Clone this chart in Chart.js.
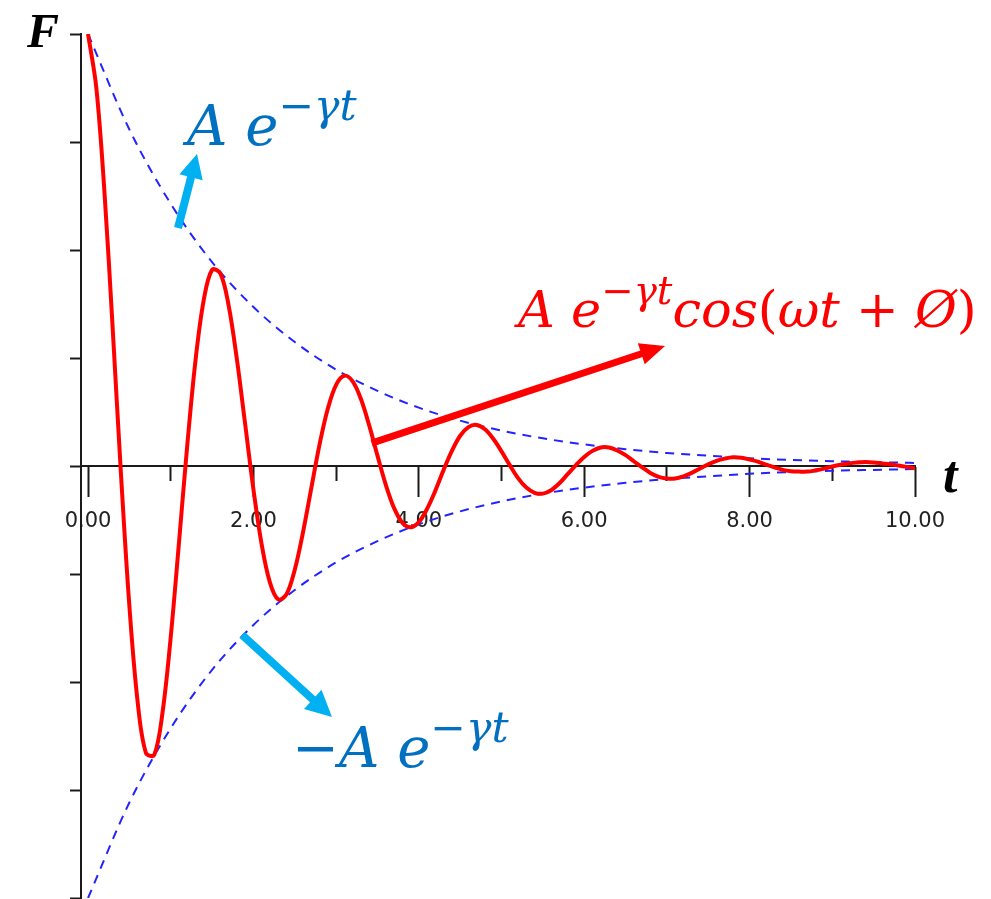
<!DOCTYPE html>
<html>
<head>
<meta charset="utf-8">
<script src="https://cdn.jsdelivr.net/npm/chart.js@4.4.1/dist/chart.umd.min.js"></script>
<style>
  body { margin: 0; background: #fff; }
  canvas { display: block; }
</style>
</head>
<body>
<canvas id="damped" width="991" height="899"></canvas>
<script>
// damped oscillation
const curveT = [
  0, 0.1, 0.2, 0.3, 0.4, 0.5, 0.6, 0.7, 0.8, 0.9,
  1, 1.1, 1.2, 1.3, 1.4, 1.5, 1.6, 1.7, 1.8, 1.9,
  2, 2.1, 2.2, 2.3, 2.4, 2.5, 2.6, 2.7, 2.8, 2.9,
  3, 3.1, 3.2, 3.3, 3.4, 3.5, 3.6, 3.7, 3.8, 3.9,
  4, 4.1, 4.2, 4.3, 4.4, 4.5, 4.6, 4.7, 4.8, 4.9,
  5, 5.1, 5.2, 5.3, 5.4, 5.5, 5.6, 5.7, 5.8, 5.9,
  6, 6.1, 6.2, 6.3, 6.4, 6.5, 6.6, 6.7, 6.8, 6.9,
  7, 7.1, 7.2, 7.3, 7.4, 7.5, 7.6, 7.7, 7.8, 7.9,
  8, 8.1, 8.2, 8.3, 8.4, 8.5, 8.6, 8.7, 8.8, 8.9,
  9, 9.1, 9.2, 9.3, 9.4, 9.5, 9.6, 9.7, 9.8, 9.9, 10
];
const curveF = [
  1.000, 0.876, 0.630, 0.312, -0.024, -0.324, -0.546, -0.664, -0.669, -0.572,
  -0.396, -0.177, 0.048, 0.245, 0.385, 0.454, 0.446, 0.372, 0.247, 0.097,
  -0.054, -0.182, -0.270, -0.309, -0.297, -0.240, -0.153, -0.051, 0.050, 0.133,
  0.188, 0.209, 0.196, 0.155, 0.094, 0.024, -0.043, -0.097, -0.131, -0.142,
  -0.130, -0.099, -0.057, -0.009, 0.035, 0.070, 0.090, 0.095, 0.085, 0.063,
  0.034, 0.002, -0.028, -0.050, -0.062, -0.064, -0.056, -0.040, -0.019, 0.002,
  0.021, 0.035, 0.043, 0.043, 0.036, 0.025, 0.011, -0.003, -0.016, -0.025,
  -0.029, -0.029, -0.024, -0.016, -0.006, 0.004, 0.012, 0.017, 0.020, 0.019,
  0.015, 0.010, 0.003, -0.003, -0.009, -0.012, -0.013, -0.013, -0.010, -0.006,
  -0.001, 0.003, 0.006, 0.008, 0.009, 0.008, 0.006, 0.004, 0.001, -0.002, -0.005
];

// envelope  +/- A e^(-gamma t)
const envT = [0, 0.5, 1, 1.5, 2, 2.5, 3, 3.5, 4, 4.5, 5, 5.5, 6, 6.5, 7, 7.5, 8, 8.5, 9, 9.5, 10];
const envUpper = [1, 0.779, 0.607, 0.472, 0.368, 0.287, 0.223, 0.174, 0.135, 0.105, 0.082,
  0.064, 0.050, 0.039, 0.030, 0.024, 0.018, 0.014, 0.011, 0.009, 0.007];
const envLower = [-1, -0.779, -0.607, -0.472, -0.368, -0.287, -0.223, -0.174, -0.135, -0.105, -0.082,
  -0.064, -0.050, -0.039, -0.030, -0.024, -0.018, -0.014, -0.011, -0.009, -0.007];

const xMajorTicks = [0, 2, 4, 6, 8, 10];
const xMinorTicks = [1, 3, 5, 7, 9];
const yTicks = [-1, -0.75, -0.5, -0.25, 0, 0.25, 0.5, 0.75, 1];

const axisColor = '#1a1a1a';

function toPoints(xs, ys) {
  return xs.map((x, i) => ({ x: x, y: ys[i] }));
}

// arrows in data units (tail -> tip)
const arrowNotes = [
  { from: [1.088, 0.551], to: [1.318, 0.722], color: '#00b0f0', width: 8, head: 24, half: 12 },
  { from: [3.43, 0.053], to: [6.977, 0.278], color: '#ff0000', width: 7, head: 25, half: 11 },
  { from: [1.862, -0.391], to: [2.95, -0.581], color: '#00b0f0', width: 8, head: 26, half: 13 }
];

function drawArrow(ctx, x1, y1, x2, y2, color, w, head, half) {
  const len = Math.hypot(x2 - x1, y2 - y1);
  const ux = (x2 - x1) / len, uy = (y2 - y1) / len;
  const bx = x2 - ux * head, by = y2 - uy * head;
  ctx.save();
  ctx.strokeStyle = color;
  ctx.fillStyle = color;
  ctx.lineWidth = w;
  ctx.beginPath();
  ctx.moveTo(x1, y1);
  ctx.lineTo(bx + ux, by + uy);
  ctx.stroke();
  ctx.beginPath();
  ctx.moveTo(x2, y2);
  ctx.lineTo(bx - uy * half, by + ux * half);
  ctx.lineTo(bx + uy * half, by - ux * half);
  ctx.closePath();
  ctx.fill();
  ctx.restore();
}

function drawMath(ctx, x, y, parts, size, color) {
  ctx.save();
  ctx.fillStyle = color;
  ctx.textAlign = 'left';
  ctx.textBaseline = 'alphabetic';
  parts.forEach(p => {
    const s = p.sup ? size * 0.76 : size;
    ctx.font = (p.up ? '' : 'italic ') + s + 'px "DejaVu Serif"';
    ctx.fillText(p.s, x, y - (p.sup ? size * 0.45 : 0));
    x += ctx.measureText(p.s).width;
  });
  ctx.restore();
}

const notes = {
  id: 'notes',
  afterDraw(chart) {
    const ctx = chart.ctx;
    const xs = chart.scales.x, ys = chart.scales.y;
    arrowNotes.forEach(a => {
      drawArrow(ctx, xs.getPixelForValue(a.from[0]), ys.getPixelForValue(a.from[1]),
        xs.getPixelForValue(a.to[0]), ys.getPixelForValue(a.to[1]), a.color, a.width, a.head, a.half);
    });

    const envParts = [{ s: 'A' }, { s: ' ' }, { s: 'e' }, { s: '−γt', sup: true }];
    drawMath(ctx, 187, 145, envParts, 56, '#0070c0');
    drawMath(ctx, 292, 767, [{ s: '−', up: true }].concat(envParts), 56, '#0070c0');
    drawMath(ctx, 518, 327, envParts.concat([
      { s: 'cos' }, { s: '(', up: true }, { s: 'ωt' }, { s: ' + ', up: true }, { s: 'Ø' }, { s: ')', up: true }
    ]), 51, '#ff0000');

    ctx.save();
    ctx.fillStyle = '#000';
    ctx.textBaseline = 'alphabetic';
    ctx.font = 'bold italic 48px "Liberation Serif"';
    ctx.fillText('F', 27, 47);
    ctx.font = 'bold italic 52px "Liberation Serif"';
    ctx.fillText('t', 943, 492);
    ctx.restore();
  }
};

const flatX = s => { s.height = 0; s.paddingLeft = 0; s.paddingRight = 0; };

new Chart(document.getElementById('damped'), {
  type: 'line',
  data: {
    datasets: [{
      label: 'F',
      data: toPoints(curveT, curveF),
      borderColor: '#ff0000',
      borderWidth: 4,
      pointRadius: 0,
      tension: 0.35,
      fill: false
    }, {
      label: 'upper',
      data: toPoints(envT, envUpper),
      borderColor: '#2323ff',
      borderWidth: 2,
      borderDash: [9, 7],
      pointRadius: 0,
      cubicInterpolationMode: 'monotone',
      fill: false
    }, {
      label: 'lower',
      data: toPoints(envT, envLower),
      borderColor: '#2323ff',
      borderWidth: 2,
      borderDash: [9, 7],
      pointRadius: 0,
      cubicInterpolationMode: 'monotone',
      fill: false
    }]
  },
  options: {
    responsive: false,
    animation: false,
    layout: { padding: { left: 81, right: 76, top: 34, bottom: 1 } },
    plugins: {
      legend: { display: false },
      tooltip: { enabled: false }
    },
    scales: {
      x: {
        type: 'linear',
        position: { y: 0 },
        min: -0.085,
        max: 10,
        afterBuildTicks: s => { s.ticks = xMajorTicks.map(v => ({ value: v })); },
        afterFit: flatX,
        grid: { drawOnChartArea: false, tickLength: 30, tickWidth: 2, tickColor: axisColor },
        border: { color: axisColor, width: 2 },
        ticks: {
          autoSkip: false,
          maxRotation: 0,
          padding: 13,
          color: '#222',
          font: { family: 'DejaVu Sans', size: 21 },
          callback: v => v.toFixed(2)
        }
      },
      x2: {
        type: 'linear',
        axis: 'x',
        position: { y: 0 },
        min: -0.085,
        max: 10,
        afterBuildTicks: s => { s.ticks = xMinorTicks.map(v => ({ value: v })); },
        afterFit: flatX,
        grid: { drawOnChartArea: false, tickLength: 15, tickWidth: 2, tickColor: axisColor },
        border: { display: false },
        ticks: { autoSkip: false, maxRotation: 0, callback: () => '' }
      },
      y: {
        type: 'linear',
        position: 'left',
        min: -1,
        max: 1,
        afterBuildTicks: s => { s.ticks = yTicks.map(v => ({ value: v })); },
        afterFit: s => { s.width = 0; s.paddingTop = 0; s.paddingBottom = 0; },
        grid: { drawOnChartArea: false, tickLength: 11, tickWidth: 2, tickColor: axisColor },
        border: { color: axisColor, width: 2 },
        ticks: { display: false }
      }
    }
  },
  plugins: [notes]
});
</script>
</body>
</html>
